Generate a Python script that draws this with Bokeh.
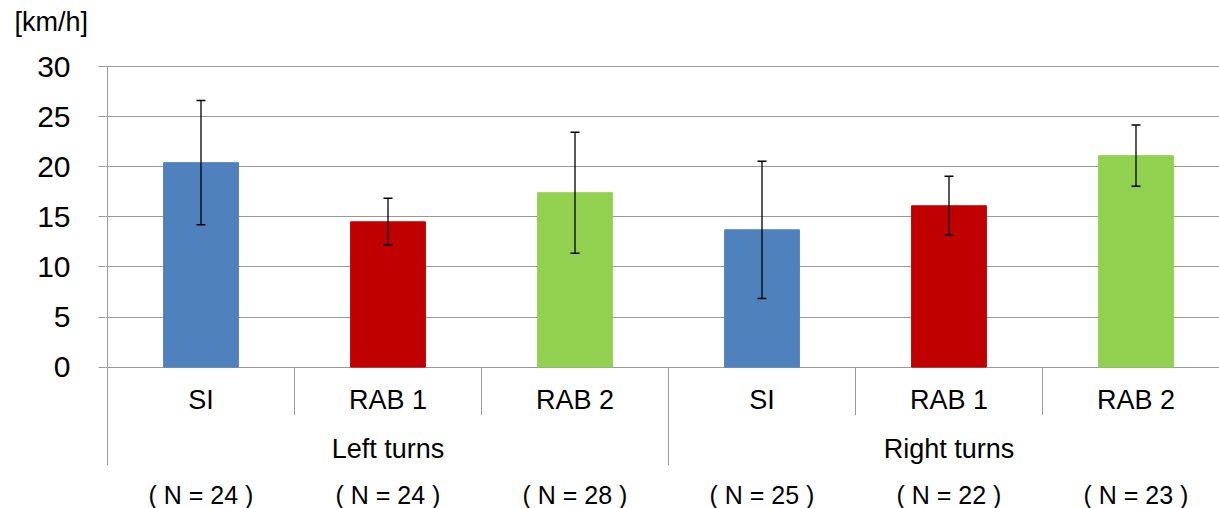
import numpy as np
from bokeh.plotting import figure
from bokeh.models import ColumnDataSource, Range1d, FixedTicker, Whisker, TeeHead
from bokeh.core.properties import value
from bokeh.embed import file_html
from bokeh.resources import INLINE

# ---- data ----
groups = ["Left turns", "Right turns"]
subcats = ["SI", "RAB 1", "RAB 2", "SI", "RAB 1", "RAB 2"]
means = [20.4, 14.5, 17.4, 13.7, 16.1, 21.1]
sds = [6.2, 2.35, 6.05, 6.85, 2.95, 3.05]
counts = [24, 24, 28, 25, 22, 23]
y_ticks = [0, 5, 10, 15, 20, 25, 30]
unit_label = "[km/h]"

palette = {"SI": "#4F81BD", "RAB 1": "#C00000", "RAB 2": "#92D050"}
FONT = "Liberation Sans"
GRID = "#9a9a9a"

n = len(subcats)
xc = np.arange(n) + 0.5
per_group = n // len(groups)

src = ColumnDataSource(dict(
    x=xc, top=means,
    upper=[m + s for m, s in zip(means, sds)],
    lower=[m - s for m, s in zip(means, sds)],
    color=[palette[s] for s in subcats],
    sub=subcats,
    nlab=[f"( N = {c} )" for c in counts],
))

W, H = 1219, 508
left_border = 105
top_border = 40
top_value_px = 66          # page y of the top gridline
px_per_unit = 10.02
x0 = -2 / 187.0
px_per_cat = 187.0
x_end = x0 + (W - left_border) / px_per_cat
y_end = y_ticks[-1] + (top_value_px - top_border) / px_per_unit
y_start = y_end - (H - top_border) / px_per_unit

p = figure(width=W, height=H, output_backend="svg", toolbar_location=None,
           x_range=Range1d(x0, x_end), y_range=Range1d(y_start, y_end),
           min_border_left=left_border, min_border_right=0,
           min_border_top=top_border, min_border_bottom=0)
p.outline_line_color = None
p.background_fill_color = "white"
p.xaxis.visible = False
p.xgrid.visible = False

ax = p.yaxis[0]
ax.ticker = FixedTicker(ticks=y_ticks)
ax.axis_line_color = None
ax.major_tick_in = 0
ax.major_tick_out = 7
ax.major_tick_line_color = GRID
ax.minor_tick_line_color = None
ax.major_label_text_font = FONT
ax.major_label_text_font_size = "30px"
ax.major_label_text_color = "black"
ax.major_label_standoff = 28

p.ygrid.ticker = FixedTicker(ticks=y_ticks)
p.ygrid.grid_line_color = GRID
p.ygrid.grid_line_width = 1

p.title.text = unit_label
p.title.align = "left"
p.title.offset = -91
p.title.standoff = 7
p.title.text_font = FONT
p.title.text_font_size = "27px"
p.title.text_font_style = "normal"
p.title.text_color = "black"

# bars
p.vbar(x="x", top="top", bottom=0, width=0.4, color="color", source=src)

# error bars
w = Whisker(base="x", upper="upper", lower="lower", source=src, dimension="height",
            line_color="black", line_width=1.3, level="overlay",
            upper_head=TeeHead(size=9, line_color="black", line_width=1.5),
            lower_head=TeeHead(size=9, line_color="black", line_width=1.5))
p.add_layout(w)

# axis line (category frame)
p.segment(x0=[0], y0=[y_ticks[-1]], x1=[0], y1=[-9.8], line_color=GRID, line_width=1)
# separators between sub-categories
sub_sep = [i for i in range(1, n) if i % per_group != 0]
p.segment(x0=sub_sep, y0=[0] * len(sub_sep), x1=sub_sep, y1=[-4.8] * len(sub_sep),
          line_color=GRID, line_width=1)
grp_sep = [i * per_group for i in range(1, len(groups) + 1)]
p.segment(x0=grp_sep, y0=[0] * len(grp_sep), x1=grp_sep, y1=[-9.8] * len(grp_sep),
          line_color=GRID, line_width=1)

# category labels
p.text(x="x", y=-3.3, text="sub", source=src, text_font=value(FONT),
       text_font_size="27px", text_align="center", text_baseline="middle",
       text_color="black")
gx = [per_group * (g + 0.5) for g in range(len(groups))]
p.text(x=gx, y=[-8.2] * len(groups), text=groups, text_font=value(FONT),
       text_font_size="27px", text_align="center", text_baseline="middle",
       text_color="black")
p.text(x="x", y=-12.75, text="nlab", source=src, text_font=value(FONT),
       text_font_size="25px", text_align="center", text_baseline="middle",
       text_color="black")

open("out.html", "w").write(file_html(p, INLINE))
